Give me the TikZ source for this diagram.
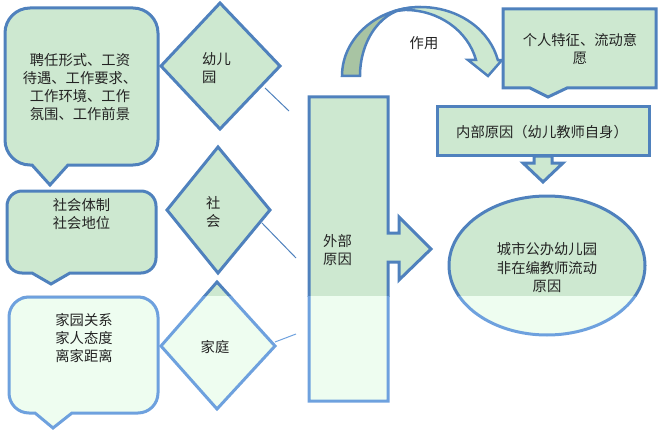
\documentclass[tikz,border=0pt]{standalone}
\usepackage{fontspec}
\newfontfamily\cjk{Noto Sans CJK SC}
\definecolor{topfill}{RGB}{205,232,208}
\definecolor{botfill}{RGB}{238,253,240}
\definecolor{topline}{RGB}{79,129,189}
\definecolor{botline}{RGB}{110,161,222}
\definecolor{arcdark}{RGB}{168,196,163}
\definecolor{txt}{RGB}{35,35,35}
\colorlet{fillc}{topfill}
\colorlet{linec}{topline}
\tikzset{
  box/.style={draw=linec, fill=fillc, line width=3pt, line join=miter},
  thinline/.style={draw=linec, line width=1pt},
  lbl/.style={font=\cjk\fontsize{14.3}{18}\selectfont, text=txt, align=center, inner sep=0pt},
}
\newcommand\allshapes{%
  % callout 1
  \draw[box] (5,33) arc[start angle=180,end angle=270,radius=25] -- (133,8)
    arc[start angle=270,end angle=360,radius=25] -- (158,140)
    arc[start angle=0,end angle=90,radius=25] -- (68,165) -- (50,185) -- (32,165) -- (30,165)
    arc[start angle=90,end angle=180,radius=25] -- cycle;
  % callout 2
  \draw[box] (7,206) arc[start angle=180,end angle=270,radius=15] -- (141,191)
    arc[start angle=270,end angle=360,radius=15] -- (156,258)
    arc[start angle=0,end angle=90,radius=15] -- (70,273) -- (51,284) -- (32,273) -- (22,273)
    arc[start angle=90,end angle=180,radius=15] -- cycle;
  % callout 3
  \draw[box] (9,317) arc[start angle=180,end angle=270,radius=20] -- (138,297)
    arc[start angle=270,end angle=360,radius=20] -- (158,393)
    arc[start angle=0,end angle=90,radius=20] -- (72,413) -- (53,428) -- (35,413) -- (29,413)
    arc[start angle=90,end angle=180,radius=20] -- cycle;
  % diamonds
  \draw[box] (161,66) -- (220,3) -- (280,66) -- (220,129) -- cycle;
  \draw[box] (167,210) -- (218,147) -- (270,210) -- (218,273) -- cycle;
  \draw[box] (161,346) -- (217,282) -- (275,346) -- (217,409) -- cycle;
  % short connectors
  \draw[thinline] (c1a) -- (c1b);
  \draw[thinline] (c2a) -- (c2b);
  \draw[thinline] (c3a) -- (c3b);
  % big block arrow
  \draw[box] (309,97) -- (388,97) -- (388,233) -- (399,233) -- (399,217) -- (431,249)
    -- (399,280) -- (399,262) -- (388,262) -- (388,401) -- (309,401) -- cycle;
  % ellipse
  \draw[box] (547,265.5) ellipse[x radius=98, y radius=69.5];
}
\begin{document}
\begin{tikzpicture}[x=1pt,y=-1pt]
\path[use as bounding box] (0,0) rectangle (661,433);
\coordinate (c1a) at (265,88);  \coordinate (c1b) at (289,111);
\coordinate (c2a) at (262,223); \coordinate (c2b) at (296,258);
\coordinate (c3a) at (275,342); \coordinate (c3b) at (296,334);
\begin{scope}
  \clip (0,0) rectangle (661,296.5);
  \allshapes
\end{scope}
\begin{scope}
  \colorlet{fillc}{botfill}\colorlet{linec}{botline}
  \clip (0,296.5) rectangle (661,433);
  \allshapes
\end{scope}
% curved arrow
\draw[box, fill=arcdark, line width=2.5pt] (342,76) arc[start angle=180,end angle=270,x radius=79,y radius=69]
  -- (412,8) arc[start angle=270,end angle=180,x radius=52,y radius=68] -- cycle;
\draw[box, line width=2.5pt] (394,11.2) arc[start angle=250,end angle=346.6,x radius=79,y radius=69]
  -- (502,60) -- (488,76) -- (468,60) -- (476,60)
  arc[start angle=346,end angle=270,x radius=73,y radius=66] -- cycle;
% down arrow and boxes on the right
\draw[box] (534,156) -- (552,156) -- (552,163) -- (563,163) -- (543,182) -- (523,163) -- (534,163) -- cycle;
\draw[box] (503,9) -- (656,9) -- (656,88) -- (567,88) -- (548,97) -- (530,88) -- (503,88) -- cycle;
\draw[box] (437,107) rectangle (649,155);
% texts
\node[lbl] (t1) at (80,87.5) {聘任形式、工资\\待遇、工作要求、\\工作环境、工作\\氛围、工作前景};
\node[lbl] (t2) at (81.5,214.5) {社会体制\\社会地位};
\node[lbl] (t3) at (84,338) {家园关系\\家人态度\\离家距离};
\node[lbl, anchor=west, align=left] (t4) at (202,68.5) {幼儿\\园};
\node[lbl, anchor=west, align=left] (t5) at (206,212.5) {社\\会};
\node[lbl] (t6) at (215,347) {家庭};
\node[lbl, anchor=west, align=left] (t7) at (323,250.5) {外部\\原因};
\node[lbl] (t8) at (424,43) {作用};
\node[lbl] (t9) at (580,49.5) {个人特征、流动意\\愿};
\node[lbl] (t10) at (542,132) {内部原因（幼儿教师自身）};
\node[lbl] (t11) at (547,267.5) {城市公办幼儿园\\非在编教师流动\\原因};
\end{tikzpicture}
\end{document}
